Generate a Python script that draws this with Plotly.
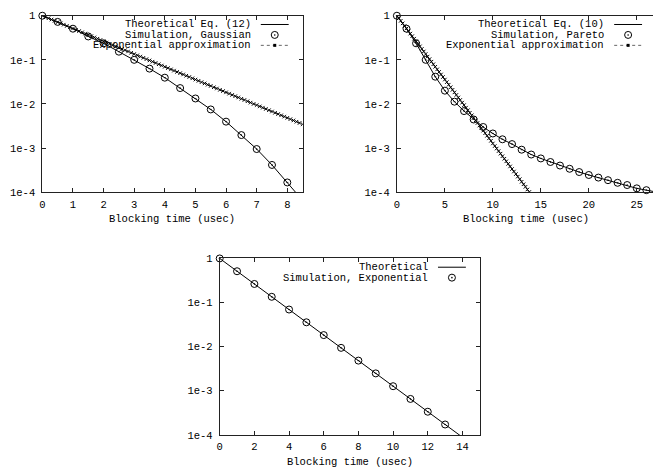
import plotly.graph_objects as go

W, H = 653, 476
FONT = "Liberation Mono"
FS = 10.5

# ---------------- data ----------------
gauss_x = [0, 0.5, 1, 1.5, 2, 2.5, 3, 3.5, 4, 4.5, 5, 5.5, 6, 6.5, 7, 7.5, 8]
gauss_sim = [1, 0.725, 0.508, 0.339, 0.237, 0.153, 0.1, 0.0632, 0.0394, 0.0229,
             0.0133, 0.0075, 0.00397, 0.00197, 0.00095, 0.000414, 0.000166]
gauss_theo_x = [0, 0.5, 1, 1.5, 2, 2.5, 3, 3.5, 4, 4.5, 5, 5.5, 6, 6.5, 7, 7.5, 8, 8.5]
gauss_theo = [1, 0.725, 0.508, 0.339, 0.237, 0.153, 0.1, 0.0632, 0.0394, 0.0229,
              0.0133, 0.0075, 0.00397, 0.00197, 0.00095, 0.000414, 0.000166, 0.000065]

approx1_x = [round(i * 0.1, 1) for i in range(86)]
approx1_y = [1, 0.9355, 0.8752, 0.8187, 0.7659, 0.7165, 0.6703, 0.6271, 0.5866, 0.5488,
             0.5134, 0.4803, 0.4493, 0.4204, 0.3932, 0.3679, 0.3442, 0.3220, 0.3012, 0.2818,
             0.2636, 0.2466, 0.2307, 0.2158, 0.2019, 0.1889, 0.1767, 0.1653, 0.1546, 0.1447,
             0.1353, 0.1266, 0.1184, 0.1108, 0.1037, 0.0970, 0.0907, 0.0849, 0.0794, 0.0743,
             0.0695, 0.0650, 0.0608, 0.0569, 0.0532, 0.0498, 0.0466, 0.0436, 0.0408, 0.0381,
             0.0357, 0.0334, 0.0312, 0.0292, 0.0273, 0.0256, 0.0239, 0.0224, 0.0209, 0.0196,
             0.0183, 0.0171, 0.0160, 0.0150, 0.0140, 0.0131, 0.0123, 0.0115, 0.0107, 0.0100,
             0.00940, 0.00879, 0.00823, 0.00770, 0.00720, 0.00674, 0.00630, 0.00590, 0.00552, 0.00516,
             0.00483, 0.00452, 0.00423, 0.00395, 0.00370, 0.00346]

pareto_x = list(range(27))
pareto_sim = [1, 0.508, 0.237, 0.1, 0.0415, 0.02, 0.01125, 0.00689, 0.00444, 0.0030,
              0.00214, 0.00158, 0.00123, 0.000919, 0.000713, 0.000582, 0.000483, 0.000401,
              0.000339, 0.000286, 0.000245, 0.000214, 0.000187, 0.000163, 0.000145,
              0.000122, 0.000111]
pareto_theo_x = list(range(28))
pareto_theo = pareto_sim + [0.000101]

approx2_x = [round(i * 0.2, 1) for i in range(70)]
approx2_y = [1, 0.8752, 0.7659, 0.6703, 0.5866, 0.5134, 0.4493, 0.3932, 0.3442, 0.3012,
             0.2636, 0.2307, 0.2019, 0.1767, 0.1546, 0.1353, 0.1184, 0.1037, 0.0907, 0.0794,
             0.0695, 0.0608, 0.0532, 0.0466, 0.0408, 0.0357, 0.0312, 0.0273, 0.0239, 0.0209,
             0.0183, 0.0160, 0.0140, 0.0123, 0.0107, 0.00940, 0.00823, 0.00720, 0.00630, 0.00552,
             0.00483, 0.00423, 0.00370, 0.00324, 0.00284, 0.00248, 0.00217, 0.00190, 0.00166, 0.00146,
             0.00127, 0.00111, 0.000975, 0.000853, 0.000747, 0.000653, 0.000572, 0.000500, 0.000438,
             0.000383, 0.000335, 0.000294, 0.000257, 0.000225, 0.000197, 0.000172, 0.000151,
             0.000132, 0.000115, 0.000101]

expo_x = list(range(14))
expo_sim = [1, 0.513, 0.264, 0.135, 0.0695, 0.0357, 0.0183, 0.0094, 0.00483, 0.00248,
            0.00127, 0.000653, 0.000335, 0.000172]
expo_theo_x = list(range(15))
expo_theo = expo_sim + [0.0000884]

y_tickvals = [1, 0.1, 0.01, 0.001, 0.0001]
y_ticktext = ["1", "1e-1", "1e-2", "1e-3", "1e-4"]
x_title = "Blocking time (usec)"
legend1 = ["Theoretical Eq. (12)", "Simulation, Gaussian", "Exponential approximation"]
legend2 = ["Theoretical Eq. (10)", "Simulation, Pareto", "Exponential approximation"]
legend3 = ["Theoretical", "Simulation, Exponential"]

# ---------------- layout helpers ----------------
def px(x):
    return x / W

def py(y):
    return 1 - y / H

# panel boxes in pixels: left, right, top, bottom
P1 = (39.5, 301.0, 11.0, 192.0)
P2 = (395.7, 653.0, 11.0, 192.0)
P3 = (217.7, 479.0, 260.0, 441.0)

LINE = dict(color="black", width=1)
CIRC = dict(symbol="circle-open-dot", size=7, color="black", line=dict(width=1, color="black"))
APPROX_MK = dict(symbol="x-thin-open", size=3.5, color="black", line=dict(width=1, color="black"))

fig = go.Figure()

def add(xa, ya, x, y, kind):
    if kind == "theo":
        fig.add_trace(go.Scatter(x=x, y=y, mode="lines", line=LINE, xaxis=xa, yaxis=ya,
                                 showlegend=False, hoverinfo="skip"))
    elif kind == "sim":
        fig.add_trace(go.Scatter(x=x, y=y, mode="markers", marker=CIRC, xaxis=xa, yaxis=ya,
                                 showlegend=False, cliponaxis=False))
    else:
        fig.add_trace(go.Scatter(x=x, y=y, mode="lines+markers",
                                 line=dict(color="#333", width=1, dash="dot"),
                                 marker=APPROX_MK, xaxis=xa, yaxis=ya, showlegend=False))

add("x", "y", gauss_theo_x, gauss_theo, "theo")
add("x", "y", gauss_x, gauss_sim, "sim")
add("x", "y", approx1_x, approx1_y, "approx")
add("x2", "y2", pareto_theo_x, pareto_theo, "theo")
add("x2", "y2", pareto_x, pareto_sim, "sim")
add("x2", "y2", approx2_x, approx2_y, "approx")
add("x3", "y3", expo_theo_x, expo_theo, "theo")
add("x3", "y3", expo_x, expo_sim, "sim")

tickfont = dict(family=FONT, size=FS, color="black")

def xaxis(box, rng, dtick, anchor):
    return dict(domain=[px(box[0]), px(box[1])], range=rng, dtick=dtick, tick0=0,
                anchor=anchor, showline=True, linecolor="#222", linewidth=1,
                mirror="allticks", ticks="inside", ticklen=4, tickcolor="#222",
                showgrid=False, zeroline=False, tickfont=tickfont, ticklabelstandoff=2)

def yaxis(box, anchor, mirror="allticks"):
    return dict(domain=[py(box[3]), py(box[2])], type="log", range=[-4, 0],
                tickvals=y_tickvals, ticktext=y_ticktext, anchor=anchor,
                showline=True, linecolor="#222", linewidth=1, mirror=mirror,
                ticks="inside", ticklen=4, tickcolor="#222", showgrid=False,
                zeroline=False, tickfont=tickfont, ticklabelstandoff=4)

annotations = []
shapes = []

def text(x, y, s, anchor="right"):
    annotations.append(dict(x=px(x), y=py(y), xref="paper", yref="paper", text=s,
                            showarrow=False, xanchor=anchor, yanchor="middle",
                            font=dict(family=FONT, size=FS, color="black")))

def line_sample(x0, x1, y, dash="solid", color="black"):
    shapes.append(dict(type="line", xref="paper", yref="paper", x0=px(x0), x1=px(x1),
                       y0=py(y), y1=py(y), line=dict(color=color, width=1, dash=dash)))

def circle_sample(x, y):
    shapes.append(dict(type="circle", xref="paper", yref="paper", xsizemode="pixel",
                       ysizemode="pixel", xanchor=px(x), yanchor=py(y), x0=-3.5, x1=3.5,
                       y0=-3.5, y1=3.5, line=dict(color="black", width=1)))
    shapes.append(dict(type="circle", xref="paper", yref="paper", xsizemode="pixel",
                       ysizemode="pixel", xanchor=px(x), yanchor=py(y), x0=-0.8, x1=0.8,
                       y0=-0.8, y1=0.8, fillcolor="black", line=dict(color="black", width=0)))

def dot_sample(x, y):
    shapes.append(dict(type="rect", xref="paper", yref="paper", xsizemode="pixel",
                       ysizemode="pixel", xanchor=px(x), yanchor=py(y), x0=-1.5, x1=1.5,
                       y0=-1.5, y1=1.5, fillcolor="black", line=dict(color="black", width=0)))

def legend(box_right, labels, top):
    s0, s1 = box_right - 42, box_right - 14
    tx = s0 - 8
    for i, lab in enumerate(labels):
        yy = top + i * 10.7
        text(tx, yy, lab)
        if i == 0:
            line_sample(s0, s1, yy)
        elif i == 1:
            circle_sample((s0 + s1) / 2, yy)
        else:
            line_sample(s0, s1, yy, dash="dot", color="#666")
            dot_sample((s0 + s1) / 2, yy)

legend(P1[1], legend1, 20)
legend(656.0, legend2, 20)
legend(P3[1], legend3, 269)

text((P1[0] + P1[1]) / 2, 220, x_title, anchor="center")
text((P2[0] + 656.0) / 2, 220, x_title, anchor="center")
text((P3[0] + P3[1]) / 2, 469, x_title, anchor="center")

fig.update_layout(
    width=W, height=H, autosize=False,
    margin=dict(l=0, r=0, t=0, b=0),
    paper_bgcolor="white", plot_bgcolor="white",
    showlegend=False,
    xaxis=xaxis(P1, [0, 8.5], 1, "y"),
    yaxis=yaxis(P1, "x"),
    xaxis2=xaxis(P2, [0, 26.69], 5, "y2"),
    yaxis2=yaxis(P2, "x2", mirror=False),
    xaxis3=xaxis(P3, [0, 15], 2, "y3"),
    yaxis3=yaxis(P3, "x3"),
    annotations=annotations,
    shapes=shapes,
)

fig.write_html(
    "out.html",
    config={"displayModeBar": False},
    post_script="document.body.style.margin='0';document.body.style.padding='0';"
                "document.documentElement.style.overflow='hidden';",
)
